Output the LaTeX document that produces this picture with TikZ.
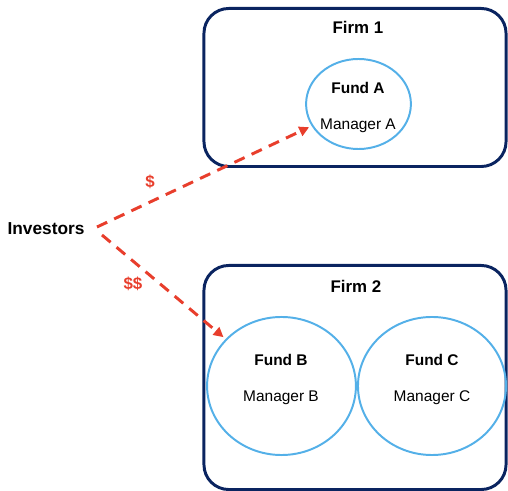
\documentclass[tikz,border=0pt]{standalone}
\usepackage{fontspec}
\setmainfont{Liberation Sans}
\usetikzlibrary{arrows.meta,shapes.geometric}
\definecolor{firmline}{RGB}{10,36,96}
\definecolor{fundline}{RGB}{84,176,232}
\definecolor{flowred}{RGB}{232,62,44}
\tikzset{firmbox/.style={draw=firmline,line width=2.1pt,rounded corners=0.62cm},
 fund/.style={draw=fundline,line width=1.4pt,ellipse,inner sep=0pt},
 flow/.style={flowred,line width=2.1pt,dash pattern=on 8pt off 5.5pt,
  -{Triangle[length=7pt,width=7pt]},shorten >=2pt},
 every node/.style={font=\fontsize{11pt}{13pt}\selectfont}}

\begin{document}
\begin{tikzpicture}[x=0.025cm,y=-0.025cm]
\useasboundingbox (0,0) rectangle (508,491);
\node[firmbox,minimum width=7.55cm,minimum height=3.95cm] (firm1) at (355,87.5) {};
\node[firmbox,minimum width=7.55cm,minimum height=5.6cm] (firm2) at (355,377.5) {};
\node[font=\fontsize{12pt}{14pt}\selectfont\bfseries] (firm1lbl) at (358,27) {Firm 1};
\node[font=\fontsize{12pt}{14pt}\selectfont\bfseries] (firm2lbl) at (356,286) {Firm 2};
\node[fund,minimum width=2.62cm,minimum height=2.25cm] (fundA) at (358.5,104) {};
\node[fund,minimum width=3.72cm,minimum height=3.45cm] (fundB) at (281.5,386) {};
\node[fund,minimum width=3.7cm,minimum height=3.45cm] (fundC) at (432,386) {};
\node[font=\fontsize{11pt}{13pt}\selectfont\bfseries] (fundAlbl) at (358,88) {Fund A};
\node (mgrA) at (358,126) {Manager A};
\node[font=\fontsize{11pt}{13pt}\selectfont\bfseries] (fundBlbl) at (281,360) {Fund B};
\node (mgrB) at (281,398) {Manager B};
\node[font=\fontsize{11pt}{13pt}\selectfont\bfseries] (fundClbl) at (432,360) {Fund C};
\node (mgrC) at (432,398) {Manager C};
\node[font=\fontsize{12.3pt}{14pt}\selectfont\bfseries] (inv) at (46,229) {Investors};
\coordinate (out1) at (97,227);
\coordinate (out2) at (102,235);
\draw[flow] (out1) -- (fundA);
\draw[flow] (out2) -- (fundB);
\node[flowred,font=\fontsize{12pt}{14pt}\selectfont\bfseries] (one) at (150,182) {\$};
\node[flowred,font=\fontsize{12pt}{14pt}\selectfont\bfseries] (two) at (133,284) {\$\$};
\end{tikzpicture}
\end{document}
